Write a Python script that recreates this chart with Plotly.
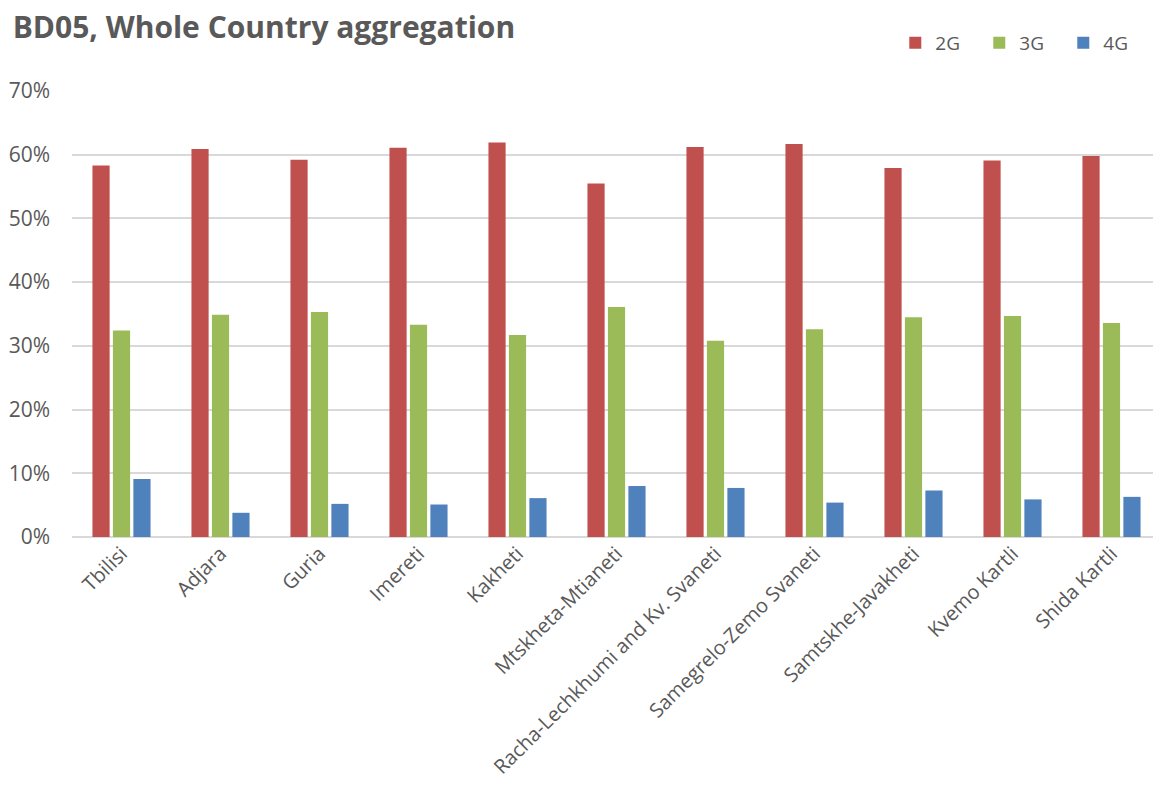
import plotly.graph_objects as go

regions = ["Tbilisi", "Adjara", "Guria", "Imereti", "Kakheti", "Mtskheta-Mtianeti",
           "Racha-Lechkhumi and Kv. Svaneti", "Samegrelo-Zemo Svaneti",
           "Samtskhe-Javakheti", "Kvemo Kartli", "Shida Kartli"]
g2 = [58.3, 60.9, 59.2, 61.1, 61.9, 55.5, 61.2, 61.7, 57.9, 59.1, 59.8]
g3 = [32.4, 34.9, 35.3, 33.3, 31.7, 36.1, 30.8, 32.6, 34.5, 34.7, 33.6]
g4 = [9.1, 3.8, 5.2, 5.1, 6.1, 8.0, 7.7, 5.4, 7.3, 5.9, 6.3]

series_names = ["2G", "3G", "4G"]
series_colors = ["#C0504D", "#9BBB59", "#4F81BD"]

FONT = "Open Sans"
GREY = "#595959"

fig = go.Figure()
for name, vals, col in zip(series_names, [g2, g3, g4], series_colors):
    fig.add_trace(go.Bar(
        x=regions, y=[v / 100 for v in vals], name=name,
        marker=dict(color=col, line=dict(width=0)),
    ))

fig.update_layout(
    width=1161, height=794,
    paper_bgcolor="white", plot_bgcolor="white",
    margin=dict(l=64, r=8, t=83, b=265, autoexpand=False),
    barmode="group", bargap=0.38, bargroupgap=0.16,
    font=dict(family=FONT, color=GREY, size=17),
    title=dict(text="<b>BD05, Whole Country aggregation</b>",
               x=0.004, xanchor="left", y=0.976, yanchor="middle",
               font=dict(family=FONT, size=30, color=GREY)),
    legend=dict(orientation="h", x=0.756, xanchor="left", y=1.1076, yanchor="middle",
                font=dict(family=FONT, size=19, color=GREY),
                entrywidth=39, entrywidthmode="pixels",
                bgcolor="rgba(0,0,0,0)"),
    showlegend=True,
)
fig.update_yaxes(range=[0, 0.7], dtick=0.1, tickformat=".0%",
                 showgrid=True, gridcolor="#D9D9D9", gridwidth=1.5,
                 zeroline=True, zerolinecolor="#D9D9D9", zerolinewidth=1.5,
                 showline=False, ticks="", ticklabelstandoff=21,
                 tickfont=dict(family=FONT, size=21, color=GREY))
fig.update_xaxes(tickangle=-45, showgrid=False, showline=False, ticks="",
                 tickfont=dict(family=FONT, size=20, color=GREY))

fig.write_html("out.html")
